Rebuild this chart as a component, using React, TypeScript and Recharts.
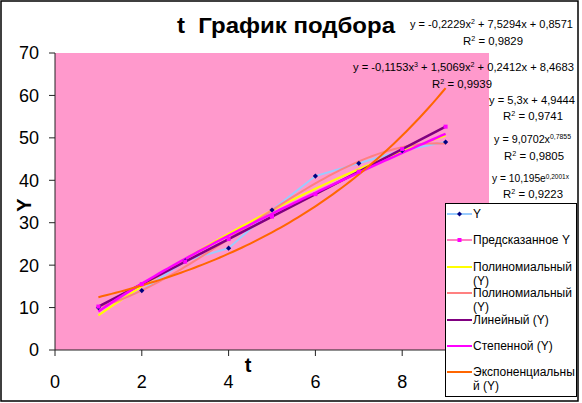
import React from 'react';
import {
  ComposedChart,
  Line,
  XAxis,
  YAxis,
  CartesianGrid,
  Legend,
  Customized,
} from 'recharts';

// Observed values and the values predicted by the regression
const tValues = [1, 2, 3, 4, 5, 6, 7, 8, 9];
const yObserved = [10, 14, 21, 24, 33, 41, 44, 47, 49];
const yPredicted = [10.24, 15.54, 20.84, 26.14, 31.44, 36.74, 42.04, 47.34, 52.64];

// Trendline coefficients, as printed next to the plot
const poly2Coef = [0.8571, 7.5294, -0.2229]; // c0 + c1*x + c2*x^2
const poly3Coef = [8.4683, 0.2412, 1.5069, -0.1153]; // c0 + c1*x + c2*x^2 + c3*x^3
const linearCoef = [4.9444, 5.3]; // c0 + c1*x
const powerCoef = [9.0702, 0.7855]; // a * x^b
const expCoef = [10.195, 0.2001]; // a * e^(b*x)
const rSquared = ['0,9829', '0,9939', '0,9741', '0,9805', '0,9223'];

const xTicks = [0, 2, 4, 6, 8];
const yTicks = [0, 10, 20, 30, 40, 50, 60, 70];

const seriesNames = [
  'Y',
  'Предсказанное Y',
  'Полиномиальный (Y)',
  'Полиномиальный (Y)',
  'Линейный (Y)',
  'Степенной (Y)',
  'Экспоненциальный (Y)',
];

const COLORS = {
  observed: '#99CCFF',
  observedMarker: '#000080',
  predicted: '#FF80C0',
  predictedMarker: '#FF00FF',
  poly2: '#FFFF00',
  poly3: '#FF8080',
  linear: '#800080',
  power: '#FF00FF',
  exp: '#FF6600',
};

const FONT = '"Liberation Sans", Arial, sans-serif';

const observedTable = tValues.map((t, i) => ({ t, y: yObserved[i], yp: yPredicted[i] }));

// Sample a fitted curve across the fitted range of t
const tMin = tValues[0];
const tMax = tValues[tValues.length - 1];
const STEPS = 80;
const sampleCurve = (fn: (x: number) => number) =>
  Array.from({ length: STEPS + 1 }, (_, i) => {
    const t = tMin + ((tMax - tMin) * i) / STEPS;
    return { t, v: fn(t) };
  });

const polyEval = (c: number[]) => (x: number) =>
  c.reduce((acc, ci, k) => acc + ci * Math.pow(x, k), 0);

const poly2Curve = sampleCurve(polyEval(poly2Coef));
const poly3Curve = sampleCurve(polyEval(poly3Coef));
const linearCurve = sampleCurve(polyEval(linearCoef));
const powerCurve = sampleCurve((x) => powerCoef[0] * Math.pow(x, powerCoef[1]));
const expCurve = sampleCurve((x) => expCoef[0] * Math.exp(expCoef[1] * x));

const fmt = (v: number, d: number) => v.toFixed(d).replace('.', ',');
const signed = (v: number, d: number) => (v < 0 ? ' - ' : ' + ') + fmt(Math.abs(v), d);

const Diamond = (props: any) => {
  const { cx, cy, index } = props;
  if (cx == null || cy == null) return <g key={`d-${index}`} />;
  const r = 2.6;
  return (
    <path
      key={`d-${index}`}
      d={`M${cx},${cy - r}L${cx + r},${cy}L${cx},${cy + r}L${cx - r},${cy}Z`}
      fill={COLORS.observedMarker}
    />
  );
};

const Square = (props: any) => {
  const { cx, cy, index } = props;
  if (cx == null || cy == null) return <g key={`s-${index}`} />;
  const r = 2;
  return (
    <rect key={`s-${index}`} x={cx - r} y={cy - r} width={2 * r} height={2 * r} fill={COLORS.predictedMarker} />
  );
};

const Sup = ({ children }: { children: React.ReactNode }) => (
  <tspan dy={-4} fontSize={7}>
    {children}
  </tspan>
);
const Base = ({ children }: { children: React.ReactNode }) => <tspan dy={4}>{children}</tspan>;

const EqText = ({ x, y, len, children }: { x: number; y: number; len: number; children: React.ReactNode }) => (
  <text x={x} y={y} fontSize={11} fontFamily={FONT} fill="#000" textLength={len} lengthAdjust="spacingAndGlyphs">
    {children}
  </text>
);

const RText = ({ x, y, value }: { x: number; y: number; value: string }) => (
  <EqText x={x} y={y} len={60}>
    R<Sup>2</Sup>
    <Base>{` = ${value}`}</Base>
  </EqText>
);

const Annotations = () => (
  <g>
    <rect x={1} y={1} width={577} height={400} fill="none" stroke="#000" strokeWidth={1.5} />
    <text
      x={177}
      y={33}
      fontSize={22}
      fontWeight="bold"
      fontFamily={FONT}
      textLength={218}
      lengthAdjust="spacingAndGlyphs"
      style={{ whiteSpace: 'pre' }}
    >
      {'t  График подбора'}
    </text>
    <text x={248} y={372} fontSize={20} fontWeight="bold" fontFamily={FONT} textAnchor="middle">
      t
    </text>
    <text
      x={26}
      y={205}
      fontSize={20}
      fontWeight="bold"
      fontFamily={FONT}
      textAnchor="middle"
      dominantBaseline="middle"
      transform="rotate(-90 26 205)"
    >
      Y
    </text>

    {/* quadratic */}
    <EqText x={410} y={28} len={163}>
      {`y = ${fmt(poly2Coef[2], 4)}x`}
      <Sup>2</Sup>
      <Base>{`${signed(poly2Coef[1], 4)}x${signed(poly2Coef[0], 4)}`}</Base>
    </EqText>
    <RText x={463} y={45} value={rSquared[0]} />

    {/* cubic */}
    <EqText x={353} y={71} len={221}>
      {`y = ${fmt(poly3Coef[3], 4)}x`}
      <Sup>3</Sup>
      <Base>{`${signed(poly3Coef[2], 4)}x`}</Base>
      <Sup>2</Sup>
      <Base>{`${signed(poly3Coef[1], 4)}x${signed(poly3Coef[0], 4)}`}</Base>
    </EqText>
    <RText x={432} y={88} value={rSquared[1]} />

    {/* linear */}
    <EqText x={489} y={104} len={86}>
      {`y = ${fmt(linearCoef[1], 1)}x${signed(linearCoef[0], 4)}`}
    </EqText>
    <RText x={503} y={120} value={rSquared[2]} />

    {/* power */}
    <EqText x={494} y={143} len={77}>
      {`y = ${fmt(powerCoef[0], 4)}x`}
      <Sup>{fmt(powerCoef[1], 4)}</Sup>
    </EqText>
    <RText x={504} y={160} value={rSquared[3]} />

    {/* exponential */}
    <EqText x={492} y={182} len={77}>
      {`y = ${fmt(expCoef[0], 3)}e`}
      <tspan dy={-3} fontSize={7}>{`${fmt(expCoef[1], 4)}x`}</tspan>
    </EqText>
    <RText x={503} y={198} value={rSquared[4]} />
  </g>
);

const legendItems = [
  { name: seriesNames[0], color: COLORS.observed, marker: 'diamond' },
  { name: seriesNames[1], color: COLORS.predicted, marker: 'square' },
  { name: seriesNames[2], color: COLORS.poly2, marker: '' },
  { name: seriesNames[3], color: COLORS.poly3, marker: '' },
  { name: seriesNames[4], color: COLORS.linear, marker: '' },
  { name: seriesNames[5], color: COLORS.power, marker: '' },
  { name: seriesNames[6], color: COLORS.exp, marker: '' },
];

const LegendBox = () => (
  <div
    style={{
      position: 'relative',
      width: 132,
      height: 194,
      background: '#fff',
      border: '1px solid #000',
      boxSizing: 'border-box',
      fontFamily: FONT,
      fontSize: 12,
      color: '#000',
    }}
  >
    {legendItems.map((it, i) => {
      const cy = 10 + i * 26.4;
      return (
        <div key={i}>
          <svg
            width={26}
            height={8}
            style={{ position: 'absolute', left: 1, top: cy - 4, overflow: 'visible' }}
          >
            <line x1={0} y1={4} x2={25} y2={4} stroke={it.color} strokeWidth={2} />
            {it.marker === 'diamond' && <path d="M12.5,1.5L15,4L12.5,6.5L10,4Z" fill={COLORS.observedMarker} />}
            {it.marker === 'square' && <rect x={10.5} y={2} width={4} height={4} fill={COLORS.predictedMarker} />}
          </svg>
          <div
            style={{
              position: 'absolute',
              left: 27,
              top: cy - 7,
              width: 104,
              lineHeight: '14px',
              overflowWrap: 'anywhere',
              whiteSpace: 'normal',
            }}
          >
            {it.name}
          </div>
        </div>
      );
    })}
  </div>
);

export default function App() {
  return (
    <div style={{ position: 'absolute', left: 0, top: 0, width: 582, height: 403, background: '#fff' }}>
      <ComposedChart
        width={582}
        height={403}
        data={observedTable}
        margin={{ top: 53, right: 93, bottom: 0, left: 0 }}
      >
        <CartesianGrid fill="#FF99CC" stroke="none" horizontal={false} vertical={false} />
        <XAxis
          type="number"
          dataKey="t"
          domain={[0, 10]}
          ticks={xTicks}
          interval={0}
          height={53}
          tickSize={6}
          tickMargin={19}
          axisLine={{ stroke: '#222' }}
          tickLine={{ stroke: '#222' }}
          tick={{ fontSize: 18, fill: '#000', fontFamily: FONT }}
          allowDataOverflow
        />
        <YAxis
          type="number"
          domain={[0, 70]}
          ticks={yTicks}
          interval={0}
          width={55}
          tickSize={6}
          tickMargin={10}
          axisLine={{ stroke: '#222' }}
          tickLine={{ stroke: '#222' }}
          tick={{ fontSize: 18, fill: '#000', fontFamily: FONT }}
          allowDataOverflow
        />
        <Line
          dataKey="y"
          name={seriesNames[0]}
          stroke={COLORS.observed}
          strokeWidth={2}
          dot={Diamond}
          activeDot={false}
          isAnimationActive={false}
          legendType="none"
        />
        <Line
          dataKey="yp"
          name={seriesNames[1]}
          stroke={COLORS.predicted}
          strokeWidth={1.5}
          dot={Square}
          activeDot={false}
          isAnimationActive={false}
          legendType="none"
        />
        <Line data={poly2Curve} dataKey="v" name={seriesNames[2]} stroke={COLORS.poly2} strokeWidth={2} dot={false} activeDot={false} isAnimationActive={false} legendType="none" />
        <Line data={poly3Curve} dataKey="v" name={seriesNames[3]} stroke={COLORS.poly3} strokeWidth={2} dot={false} activeDot={false} isAnimationActive={false} legendType="none" />
        <Line data={linearCurve} dataKey="v" name={seriesNames[4]} stroke={COLORS.linear} strokeWidth={2.5} dot={false} activeDot={false} isAnimationActive={false} legendType="none" />
        <Line data={powerCurve} dataKey="v" name={seriesNames[5]} stroke={COLORS.power} strokeWidth={2.5} dot={false} activeDot={false} isAnimationActive={false} legendType="none" />
        <Line data={expCurve} dataKey="v" name={seriesNames[6]} stroke={COLORS.exp} strokeWidth={2} dot={false} activeDot={false} isAnimationActive={false} legendType="none" />
        <Customized component={Annotations} />
        <Legend
          layout="horizontal"
          align="center"
          verticalAlign="middle"
          content={() => <LegendBox />}
          wrapperStyle={{ position: 'absolute', left: 445, top: 203, width: 132, height: 194, margin: 0, padding: 0 }}
        />
      </ComposedChart>
    </div>
  );
}
